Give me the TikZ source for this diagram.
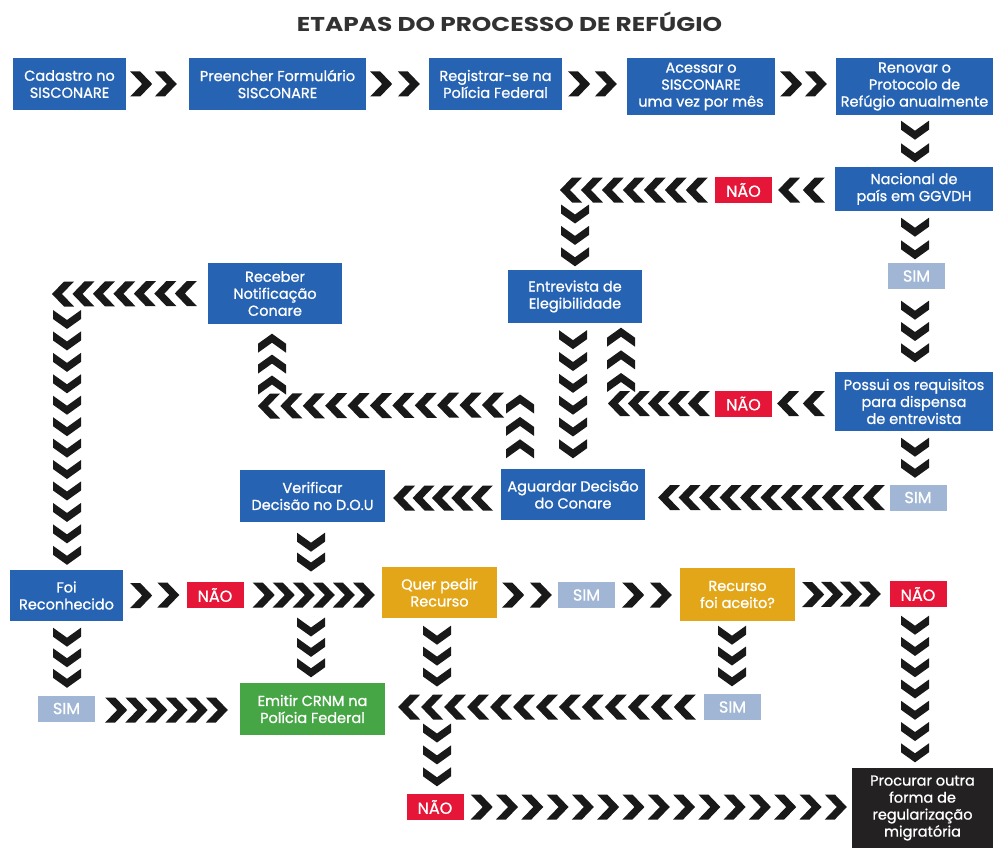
\documentclass[tikz,border=0pt]{standalone}
\usepackage{fontspec}
\setmainfont{Poppins}
\newfontfamily\boxfont{Poppins}[FakeBold=1.0]
\usetikzlibrary{calc}
\definecolor{cblue}{RGB}{38,99,178}
\definecolor{cred}{RGB}{230,22,56}
\definecolor{csim}{RGB}{160,182,212}
\definecolor{cgold}{RGB}{226,166,24}
\definecolor{cgreen}{RGB}{70,166,70}
\definecolor{cdark}{RGB}{35,33,34}
\definecolor{ctitle}{RGB}{50,50,50}
\definecolor{chevcol}{RGB}{25,25,25}
\tikzset{
  box/.style={rectangle, inner sep=0pt, align=center, text=white,
    font=\boxfont\fontsize{14.5}{17}\selectfont},
  wh/.style 2 args={minimum width=#1, minimum height=#2},
  bluebox/.style={box, fill=cblue},
  goldbox/.style={box, fill=cgold},
  greenbox/.style={box, fill=cgreen},
  darkbox/.style={box, fill=cdark},
  tagbox/.style={box, wh={57}{26}, font=\boxfont\fontsize{16}{17}\selectfont},
  naobox/.style={tagbox, fill=cred},
  simbox/.style={tagbox, fill=csim},
  chevR/.pic={\fill[chevcol] (-11,-12.5) -- (-1,-12.5) -- (11,0) -- (-1,12.5) -- (-11,12.5) -- (1,0) -- cycle;},
  chevL/.pic={\fill[chevcol] (11,-12.5) -- (1,-12.5) -- (-11,0) -- (1,12.5) -- (11,12.5) -- (-1,0) -- cycle;},
  chevD/.pic={\fill[chevcol] (-14,-9.5) -- (-14,-0.5) -- (0,9.5) -- (14,-0.5) -- (14,-9.5) -- (0,0.5) -- cycle;},
  chevU/.pic={\fill[chevcol] (-14,9.5) -- (-14,0.5) -- (0,-9.5) -- (14,0.5) -- (14,9.5) -- (0,-0.5) -- cycle;},
}
\newcommand\chevs[4]{%
  \path #1 coordinate (chevS);
  \path #2 coordinate (chevE);
  \pgfmathtruncatemacro\chevlast{#3-1}%
  \foreach \k in {0,...,\chevlast}{\pic at ($(chevS)!\k/\chevlast!(chevE)$) {#4};}%
}
\begin{document}
\begin{tikzpicture}[x=1pt,y=-1pt]
\fill[white] (0,0) rectangle (995,848);
\useasboundingbox (0,0) rectangle (995,848);

\node[text=ctitle, font=\fontsize{20}{22}\selectfont\bfseries] (title) at (509.5,22) {\scalebox{1.24}[1]{ETAPAS DO PROCESSO DE REFÚGIO}};

% row 1
\node[bluebox, wh={113}{52}] (b1) at (69.5,84) {Cadastro no\\SISCONARE};
\node[bluebox, wh={177}{52}] (b2) at (277.5,84) {Preencher Formulário\\SISCONARE};
\node[bluebox, wh={133}{52}] (b3) at (495.5,84) {Registrar-se na\\Polícia Federal};
\node[bluebox, wh={148}{57}] (b4) at (701,86.5) {Acessar o\\SISCONARE\\uma vez por mês};
\node[bluebox, wh={157}{57}] (b5) at (914.5,86.5) {Renovar o\\Protocolo de\\Refúgio anualmente};

\node[bluebox, wh={158}{44}] (b6) at (914,189) {Nacional de\\país em GGVDH};
\node[naobox] (n1) at (743.5,190) {NÃO};
\node[bluebox, wh={134}{53}] (b7) at (575,296.5) {Entrevista de\\Elegibilidade};
\node[simbox] (s1) at (916.5,276) {SIM};
\node[bluebox, wh={158}{59}] (b8) at (914,401.5) {Possui os requisitos\\para dispensa\\de entrevista};
\node[naobox] (n2) at (743.5,403.5) {NÃO};
\node[bluebox, wh={144}{51}] (b9) at (573,494.5) {Aguardar Decisão\\do Conare};
\node[simbox] (s2) at (918,497.5) {SIM};
\node[bluebox, wh={134}{61}] (b10) at (275,293.5) {Receber\\Notificação\\Conare};
\node[bluebox, wh={113}{51}] (b11) at (66.5,595.5) {Foi\\Reconhecido};
\node[naobox] (n3) at (215,595) {NÃO};
\node[bluebox, wh={145}{52}] (b12) at (312.5,496) {Verificar\\Decisão no D.O.U};
\node[goldbox, wh={115}{51}] (b13) at (439.5,592.5) {Quer pedir\\Recurso};
\node[simbox] (s3) at (586.5,595) {SIM};
\node[goldbox, wh={115}{53}] (b14) at (737.5,594.5) {Recurso\\foi aceito?};
\node[naobox] (n4) at (918,594) {NÃO};
\node[simbox] (s4) at (732.5,707) {SIM};
\node[greenbox, wh={145}{52}] (b15) at (312.5,709) {Emitir CRNM na\\Polícia Federal};
\node[simbox] (s5) at (66.5,708.5) {SIM};
\node[naobox] (n5) at (435,807) {NÃO};
\node[darkbox, wh={141}{80}] (b16) at (922.5,808) {Procurar outra\\forma de\\regularização\\migratória};

% corners and crossings
\coordinate (c1) at (571,190);
\coordinate (c2) at (619,403.5);
\coordinate (c3) at (520,404);
\coordinate (c4) at (269,406);
\coordinate (c5) at (63,294);
\coordinate (x1) at (311,595);
\coordinate (x2) at (437,707);

% row 1 connectors
\chevs{($(b1.east)+(15,0)$)}{($(b2.west)+(-23,0)$)}{2}{chevR}
\chevs{($(b2.east)+(15,0)$)}{($(b3.west)+(-20,0)$)}{2}{chevR}
\chevs{($(b3.east)+(17,0)$)}{($(b4.west)+(-21,-2.5)$)}{2}{chevR}
\chevs{($(b4.east)+(16,-2.5)$)}{($(b5.west)+(-20,-2.5)$)}{2}{chevR}
\chevs{($(b5.south)+(0.5,15)$)}{($(b6.north)+(1,-14)$)}{2}{chevD}

% Nacional
\chevs{($(b6.west)+(-21,1)$)}{($(n1.east)+(17,0)$)}{2}{chevL}
\chevs{($(n1.west)+(-18,0)$)}{(c1)}{7}{chevL}
\chevs{($(c1)+(4,24)$)}{($(b7.north)+(0,-13)$)}{3}{chevD}
\chevs{($(b6.south)+(1,16)$)}{($(s1.north)+(-1.5,-13)$)}{2}{chevD}
\chevs{($(s1.south)+(-1.5,21)$)}{($(b8.north)+(1,-19)$)}{3}{chevD}

% Possui
\chevs{($(b8.west)+(-21,2)$)}{($(n2.east)+(16,0)$)}{2}{chevL}
\chevs{($(n2.west)+(-16,0)$)}{(c2)}{5}{chevL}
\chevs{($(c2)+(2,-21)$)}{($(b7.south)+(46,14)$)}{3}{chevU}
\chevs{($(b7.south)+(-2,16.5)$)}{($(b9.north)+(0,-20)$)}{6}{chevD}
\chevs{($(b8.south)+(1,16)$)}{($(s2.north)+(-3,-16)$)}{2}{chevD}
\chevs{($(s2.west)+(-15.5,0)$)}{($(b9.east)+(24,3)$)}{11}{chevL}

% Aguardar
\chevs{($(b9.north)+(-53,-20)$)}{(c3)}{3}{chevU}
\chevs{($(c3)+(-27,1)$)}{(c4)}{11}{chevL}
\chevs{($(c4)+(3,-21)$)}{($(b10.south)+(-3,19)$)}{3}{chevU}
\chevs{($(b10.west)+(-22,0)$)}{(c5)}{7}{chevL}
\chevs{($(c5)+(4,25.5)$)}{($(b11.north)+(0.5,-14.5)$)}{12}{chevD}
\chevs{($(b9.west)+(-19,3.5)$)}{($(b12.east)+(19,2)$)}{5}{chevL}

% Verificar / Foi reconhecido
\chevs{($(b12.south)+(-1.5,20)$)}{($(x1)+(0,-33)$)}{2}{chevD}
\chevs{($(x1)+(0,32)$)}{($(b15.north)+(-1.5,-15)$)}{3}{chevD}
\chevs{($(b11.east)+(18,0)$)}{($(n3.west)+(-18,0)$)}{2}{chevR}
\chevs{($(n3.east)+(20,0)$)}{($(b13.west)+(-18,2.5)$)}{6}{chevR}
\chevs{($(b11.south)+(0.5,16)$)}{($(s5.north)+(0.5,-17)$)}{3}{chevD}
\chevs{($(s5.east)+(21,1.5)$)}{($(b15.west)+(-23,1)$)}{6}{chevR}

% Recurso
\chevs{($(b13.east)+(16,2.5)$)}{($(s3.west)+(-17,0)$)}{2}{chevR}
\chevs{($(s3.east)+(18,0)$)}{($(b14.west)+(-19,0.5)$)}{2}{chevR}
\chevs{($(b14.east)+(18,0)$)}{($(n4.west)+(-19.5,0)$)}{4}{chevR}
\chevs{($(n4.south)+(-3,18)$)}{($(b16.north)+(-7.5,-15)$)}{7}{chevD}
\chevs{($(b14.south)+(-5.5,14)$)}{($(s4.north)+(-0.5,-17)$)}{3}{chevD}
\chevs{($(s4.west)+(-19,0)$)}{($(b15.east)+(24,-2)$)}{13}{chevL}
\chevs{($(b13.south)+(-2.5,17)$)}{($(x2)+(0,-30)$)}{3}{chevD}
\chevs{($(x2)+(0,26)$)}{($(n5.north)+(2,-17)$)}{3}{chevD}
\chevs{($(n5.east)+(18,0)$)}{($(b16.west)+(-16,-1)$)}{15}{chevR}
\end{tikzpicture}
\end{document}
